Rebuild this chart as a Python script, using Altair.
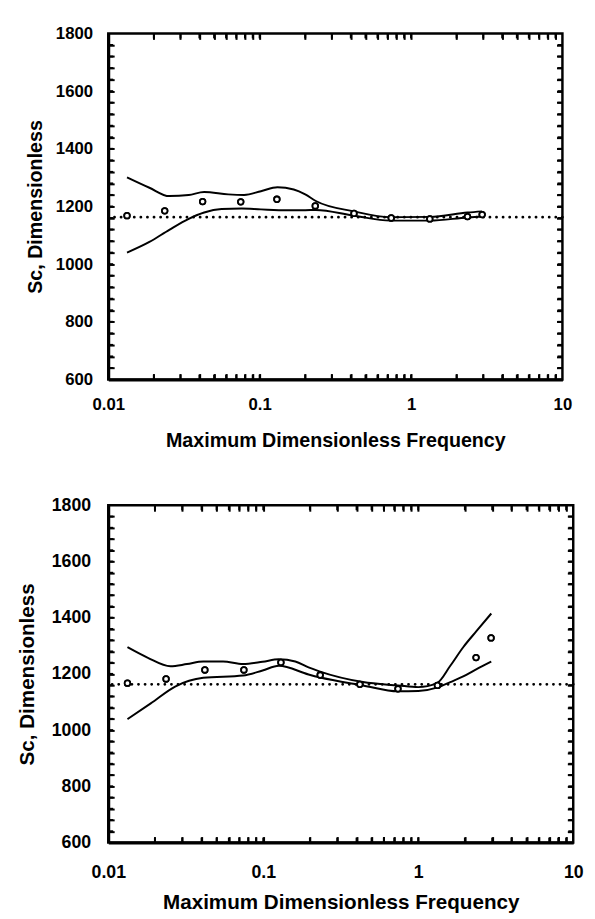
import altair as alt
import pandas as pd

FONT = "Liberation Sans"

# shared measured frequencies (circles)
freq = [0.0133, 0.0236, 0.042, 0.075, 0.13, 0.233, 0.42, 0.74, 1.33, 2.36, 2.95]
sc_top = [1168, 1185, 1217, 1216, 1225, 1202, 1176, 1160, 1157, 1165, 1172]
sc_bottom = [1167, 1182, 1214, 1214, 1241, 1196, 1163, 1147, 1159, 1258, 1328]

ref_level = 1163

top_upper_f = [0.0133, 0.0187, 0.0253, 0.034, 0.043, 0.062, 0.079, 0.102, 0.131, 0.168, 0.2, 0.235, 0.42, 0.73, 1.33, 2.36, 2.95]
top_upper_sc = [1301, 1265, 1236, 1240, 1250, 1242, 1240, 1253, 1267, 1259, 1242, 1219, 1183, 1163, 1164, 1179, 1183]
top_lower_f = [0.0133, 0.0187, 0.0253, 0.034, 0.043, 0.056, 0.076, 0.102, 0.152, 0.2, 0.235, 0.42, 0.73, 1.33, 2.36, 2.95]
top_lower_sc = [1040, 1077, 1119, 1157, 1179, 1191, 1193, 1190, 1187, 1187, 1188, 1168, 1151, 1151, 1162, 1165]

bot_upper_f = [0.0133, 0.0179, 0.0252, 0.0322, 0.041, 0.055, 0.074, 0.099, 0.126, 0.161, 0.196, 0.23, 0.44, 0.74, 1.0, 1.32, 1.61, 1.95, 2.38, 2.96]
bot_upper_sc = [1295, 1258, 1227, 1235, 1244, 1244, 1235, 1243, 1252, 1244, 1223, 1209, 1171, 1159, 1153, 1167, 1229, 1295, 1353, 1415]
bot_lower_f = [0.0133, 0.0188, 0.027, 0.041, 0.074, 0.099, 0.126, 0.196, 0.23, 0.44, 0.74, 1.0, 1.32, 1.61, 1.95, 2.38, 2.96]
bot_lower_sc = [1039, 1095, 1155, 1186, 1194, 1212, 1229, 1198, 1188, 1159, 1138, 1139, 1151, 1171, 1191, 1217, 1244]

x_labels = [0.01, 0.1, 1, 10]
y_labels = [600, 800, 1000, 1200, 1400, 1600, 1800]
x_ticks = [round(m * d, 4) for d in (0.01, 0.1, 1) for m in range(2, 10)] + [0.1, 1]
y_ticks = list(range(640, 1800, 40))


def tick_axis(orient, values):
    return alt.Axis(orient=orient, offset=-6, values=values, ticks=True, tickSize=6,
                    tickWidth=2, tickColor="black", labels=False, domain=False,
                    grid=False, title=None)


def panel(w, h, sc_pts, uf, us, lf, ls, lab_size, ttl_size, ylab_pad, ytitle_x, xlab_pad, xtitle_y):
    xs = alt.Scale(type="log", domain=[0.01, 10], nice=False)
    ys = alt.Scale(domain=[600, 1800], nice=False, zero=False)
    xaxis = alt.Axis(orient="bottom", values=x_labels, format="~g", ticks=False, tickSize=0, grid=False,
                     domainColor="black", domainWidth=3,
                     labelFont=FONT, labelFontSize=lab_size, labelFontWeight="bold", labelColor="black",
                     labelPadding=xlab_pad, labelBaseline="middle", labelFlush=False, labelOverlap=False,
                     title="Maximum Dimensionless Frequency", titleFont=FONT, titleFontSize=ttl_size,
                     titleFontWeight="bold", titleColor="black", titleY=xtitle_y, titleBaseline="middle")
    yaxis = alt.Axis(orient="left", values=y_labels, format="d", ticks=False, tickSize=0, grid=False,
                     domainColor="black", domainWidth=3,
                     labelFont=FONT, labelFontSize=lab_size, labelFontWeight="bold", labelColor="black",
                     labelPadding=ylab_pad, labelOverlap=False,
                     title="Sc, Dimensionless", titleFont=FONT, titleFontSize=ttl_size,
                     titleFontWeight="bold", titleColor="black", titleX=ytitle_x, titleBaseline="middle")

    pdata = pd.DataFrame({"f": freq, "sc": sc_pts})
    pts = alt.Chart(pdata).mark_point(
        shape="circle", fill="white", stroke="black", strokeWidth=1.8, size=32,
        opacity=1, fillOpacity=1).encode(
        x=alt.X("f:Q", scale=xs, axis=xaxis), y=alt.Y("sc:Q", scale=ys, axis=yaxis))
    pts_top = alt.Chart(pdata).mark_point(
        shape="circle", fill="white", stroke="black", strokeWidth=1.8, size=32,
        opacity=1, fillOpacity=1).encode(
        x=alt.X("f:Q", scale=xs, axis=None), y=alt.Y("sc:Q", scale=ys, axis=None))

    up = alt.Chart(pd.DataFrame({"f": uf, "sc": us})).mark_line(
        color="black", strokeWidth=2, interpolate="monotone").encode(
        x=alt.X("f:Q", scale=xs, axis=tick_axis("top", x_ticks)),
        y=alt.Y("sc:Q", scale=ys, axis=tick_axis("right", y_ticks)))
    lo = alt.Chart(pd.DataFrame({"f": lf, "sc": ls})).mark_line(
        color="black", strokeWidth=2, interpolate="monotone").encode(
        x=alt.X("f:Q", scale=xs, axis=tick_axis("bottom", x_ticks)),
        y=alt.Y("sc:Q", scale=ys, axis=tick_axis("left", y_ticks)))

    ref = alt.Chart(pd.DataFrame({"sc": [ref_level]})).mark_rule(
        color="black", strokeWidth=2.8, strokeDash=[0.1, 6.6], strokeCap="round").encode(
        y=alt.Y("sc:Q", scale=ys, axis=None))

    xt = pd.DataFrame({"t": x_ticks})
    yt = pd.DataFrame({"t": y_ticks})
    tb = alt.Chart(xt).mark_rule(color="black", strokeWidth=2).encode(
        x=alt.X("t:Q", scale=xs, axis=None), y=alt.value(h), y2=alt.value(h - 5))
    tt = alt.Chart(xt).mark_rule(color="black", strokeWidth=2).encode(
        x=alt.X("t:Q", scale=xs, axis=None), y=alt.value(0), y2=alt.value(5))
    tl = alt.Chart(yt).mark_rule(color="black", strokeWidth=2).encode(
        y=alt.Y("t:Q", scale=ys, axis=None), x=alt.value(0), x2=alt.value(5))
    tr = alt.Chart(yt).mark_rule(color="black", strokeWidth=2).encode(
        y=alt.Y("t:Q", scale=ys, axis=None), x=alt.value(w - 5), x2=alt.value(w))

    return alt.layer(pts, up, lo, ref, tb, tt, tl, tr, pts_top).resolve_axis(
        x="independent", y="independent").properties(width=w, height=h)


top = panel(462, 352, sc_top, top_upper_f, top_upper_sc, top_lower_f, top_lower_sc,
            17, 20, 16, -74, 26, 62)
bottom = panel(473, 343, sc_bottom, bot_upper_f, bot_upper_sc, bot_lower_f, bot_lower_sc,
               18, 21, 18, -82, 31, 61)

chart = alt.vconcat(top, bottom).properties(
    bounds="flush", spacing=128,
    padding={"left": 7, "top": 7, "right": 2, "bottom": 2},
    background="white",
).configure_view(stroke="black", strokeWidth=2.5)

chart.save("out.html", embed_options={"renderer": "svg", "actions": False})
